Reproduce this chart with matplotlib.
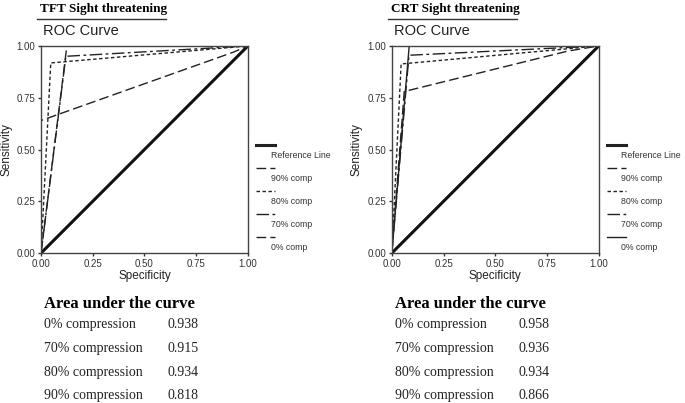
import numpy as np
import matplotlib
matplotlib.use('Agg')
import matplotlib.pyplot as plt
from matplotlib.lines import Line2D

plt.rcParams['font.family'] = 'Liberation Sans'

# ROC points (x = "Specificity" axis, y = Sensitivity)
tft_titles = 'TFT Sight threatening'
tft_0_x = [0.0, 0.125, 1.0]
tft_0_y = [0.0, 1.0, 1.0]
tft_70_x = [0.0, 0.12, 1.0]
tft_70_y = [0.0, 0.95, 1.0]
tft_80_x = [0.0, 0.047, 1.0]
tft_80_y = [0.0, 0.918, 1.0]
tft_90_x = [0.0, 0.0, 0.93, 1.0]
tft_90_y = [0.0, 0.64, 0.97, 1.0]
tft_auc = ['0.938', '0.915', '0.934', '0.818']

crt_titles = 'CRT Sight threatening'
crt_0_x = [0.0, 0.084, 1.0]
crt_0_y = [0.0, 1.0, 1.0]
crt_70_x = [0.0, 0.083, 1.0]
crt_70_y = [0.0, 0.955, 1.0]
crt_80_x = [0.0, 0.045, 1.0]
crt_80_y = [0.0, 0.913, 1.0]
crt_90_x = [0.0, 0.06, 0.85, 1.0]
crt_90_y = [0.0, 0.78, 0.975, 1.0]
crt_auc = ['0.958', '0.936', '0.934', '0.866']

auc_names = ['0% compression', '70% compression', '80% compression', '90% compression']
legend_names = ['Reference Line', '90% comp', '80% comp', '70% comp', '0% comp']
ticks = [0.0, 0.25, 0.5, 0.75, 1.0]
tick_labels = ['0.00', '0.25', '0.50', '0.75', '1.00']

LONG = (0, (7, 3))
SHORT = (0, (2.5, 1.8))
DASHDOT = (0, (9, 2.5, 2, 2.5))

fig = plt.figure(figsize=(6.85, 4.03), dpi=100)


def panel(left, title, curves, zero_style, auc):
    ax = fig.add_axes([left, 0.372, 0.302, 0.514])
    ax.plot([0, 1], [0, 1], color='#111111', lw=2.2, solid_capstyle='butt')
    (x90, y90), (x80, y80), (x70, y70), (x0, y0) = curves
    ax.plot(x90, y90, color='#222222', lw=1.0, linestyle=LONG)
    ax.plot(x80, y80, color='#222222', lw=1.0, linestyle=SHORT)
    ax.plot(x70, y70, color='#222222', lw=1.0, linestyle=DASHDOT)
    ax.plot(x0, y0, color='#222222', lw=1.0, linestyle=zero_style)
    ax.set_xlim(0, 1)
    ax.set_ylim(0, 1)
    ax.set_xticks(ticks)
    ax.set_xticklabels(tick_labels)
    ax.set_yticks(ticks)
    ax.set_yticklabels(tick_labels)
    ax.tick_params(labelsize=7, colors='#333333', length=2.5, width=1, direction='out', pad=1.5)
    for s in ax.spines.values():
        s.set_color('#444444')
        s.set_linewidth(1.0)
    ax.set_xlabel('Specificity', fontsize=8.5, labelpad=1, color='#222222')
    ax.set_ylabel('Sensitivity', fontsize=8.5, color='#222222')
    ax.yaxis.set_label_coords(-0.14, 0.5)
    ax.text(0.01, 1.072, 'ROC Curve', transform=ax.transAxes, fontsize=10.5,
            ha='left', va='center', color='#222222')
    ax.text(-0.005, 1.176, title, transform=ax.transAxes, fontsize=9.5,
            family='Liberation Serif', weight='bold', ha='left', va='center')
    ax.plot([-0.02, 0.605], [1.128, 1.128], transform=ax.transAxes, color='#333333',
            lw=1.0, clip_on=False)

    # legend drawn beside the plot, sample line above each label
    styles = [('-', 2.2), (LONG, 1.0), (SHORT, 1.0), (DASHDOT, 1.0), (zero_style, 1.0)]
    for i, (name, (ls, lw)) in enumerate(zip(legend_names, styles)):
        yy = 0.52 - i * 0.111
        ax.add_line(Line2D([1.04, 1.13], [yy, yy], transform=ax.transAxes, color='#222222',
                           lw=lw, linestyle=ls, clip_on=False))
        ax.text(1.11, yy - 0.048, name, transform=ax.transAxes, fontsize=6.3,
                ha='left', va='center', color='#333333')

    # area under the curve table
    ax.text(0.015, -0.245, 'Area under the curve', transform=ax.transAxes, fontsize=12,
            family='Liberation Serif', weight='bold', ha='left', va='center')
    for i, (name, val) in enumerate(zip(auc_names, auc)):
        yy = -0.347 - i * 0.114
        ax.text(0.015, yy, name, transform=ax.transAxes, fontsize=10,
                family='Liberation Serif', ha='left', va='center', color='#222222')
        ax.text(0.61, yy, val, transform=ax.transAxes, fontsize=10,
                family='Liberation Serif', ha='left', va='center', color='#222222')
    return ax


panel(0.0599, tft_titles,
      [(tft_90_x, tft_90_y), (tft_80_x, tft_80_y), (tft_70_x, tft_70_y), (tft_0_x, tft_0_y)],
      LONG, tft_auc)
panel(0.572, crt_titles,
      [(crt_90_x, crt_90_y), (crt_80_x, crt_80_y), (crt_70_x, crt_70_y), (crt_0_x, crt_0_y)],
      '-', crt_auc)

plt.savefig('out.png', dpi=100)
